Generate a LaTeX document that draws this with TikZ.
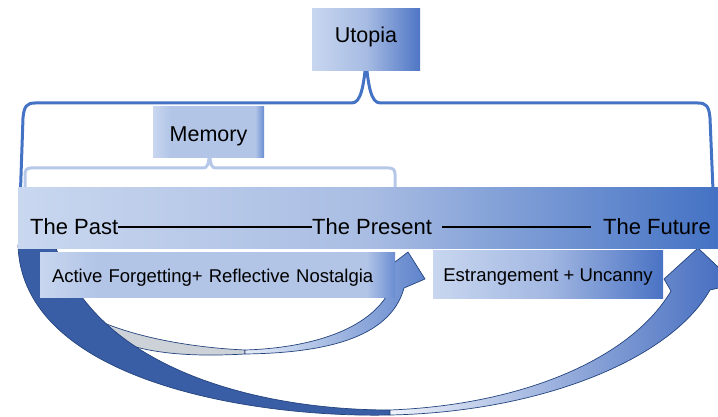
\documentclass[tikz,border=0pt]{standalone}
\usepackage{fontspec}
\setmainfont{Liberation Sans}
\definecolor{bracedark}{HTML}{4472C4}
\definecolor{bracelight}{HTML}{B6C8E8}
\definecolor{bandL}{HTML}{C9D7EF}
\definecolor{bandM}{HTML}{A9BDE3}
\definecolor{bandR}{HTML}{4472C4}
\definecolor{boxL}{HTML}{C8D6EF}
\definecolor{boxM}{HTML}{B2C5E7}
\definecolor{boxD}{HTML}{6A8DD2}
\definecolor{utoR}{HTML}{4F76C5}
\definecolor{utoM}{HTML}{A7BCE3}
\definecolor{estM}{HTML}{A3B8E2}
\definecolor{estR}{HTML}{4A73C4}
\definecolor{bigdark}{HTML}{3A5EA6}
\definecolor{bigL}{HTML}{EEF2FA}
\definecolor{bigR}{HTML}{4069BE}
\definecolor{smL}{HTML}{E6ECF7}
\definecolor{smR}{HTML}{5F84CC}
\definecolor{smgray}{HTML}{CDD1D8}
\definecolor{arrowedge}{HTML}{24447E}
\pgfdeclarehorizontalshading{edgesh}{100bp}{color(0bp)=(boxL); color(25bp)=(boxL); color(33bp)=(boxM); color(71bp)=(boxM); color(75bp)=(boxD); color(100bp)=(boxD)}
\begin{document}
\begin{tikzpicture}[x=1pt,y=-1pt,
  bracebig/.style={draw=bracedark, line width=3pt, line join=round, line cap=round},
  bracemem/.style={draw=bracelight, line width=3pt, line join=round, line cap=round},
  lbl/.style={font=\fontsize{22}{26}\selectfont, inner sep=0pt, anchor=base west},
  rulel/.style={draw=black, line width=1.4pt},
  boxtxt/.style={font=\fontsize{18.5}{22}\selectfont, inner ysep=0pt, text depth=0pt},
  titletxt/.style={font=\fontsize{21.5}{26}\selectfont, inner ysep=0pt},
  arrowpart/.style={draw=arrowedge, line width=0.7pt, line join=round}
]
\useasboundingbox (0,0) rectangle (718,417);
\clip (0,0) rectangle (718,417);

% small curved arrow
\path[arrowpart, fill=smgray] (78,310) .. controls (115,333) and (180,347) .. (245,350)
  -- (245,354) .. controls (175,358) and (105,352) .. (78,310) -- cycle;
\path[arrowpart, left color=smL, right color=smR] (245,354) .. controls (320,353) and (390,340) .. (404,288)
  -- (425,279) -- (408,252) -- (382,272) -- (390,290)
  .. controls (370,330) and (310,348) .. (245,350) -- cycle;

% big curved arrow
\path[arrowpart, fill=bigdark] (18,245) .. controls (22,380) and (250,418) .. (390,415)
  -- (390,410) .. controls (260,410) and (95,370) .. (55,245) -- cycle;
\path[arrowpart, left color=bigL, right color=bigR] (390,415) .. controls (540,412) and (670,360) .. (710,290)
  -- (736,284) -- (698,248) -- (664,279) -- (671,291)
  .. controls (630,360) and (520,405) .. (390,410) -- cycle;

% braces
\draw[bracebig] (20.5,190) -- (23,118) .. controls (24,106) and (27,103) .. (35,103) -- (352,103)
  .. controls (361,103) and (364,85) .. (366,60) .. controls (368,85) and (371,103) .. (380,103)
  -- (698,103) .. controls (706,103) and (709,106) .. (710,118) -- (713,190);
\draw[bracemem] (25,190) -- (25,174) .. controls (25,170) and (27,168) .. (31,168) -- (203,168)
  .. controls (207,168) and (209,166) .. (209.5,150) .. controls (210,166) and (212,168) .. (216,168)
  -- (389,168) .. controls (393,168) and (395,170) .. (395,174) -- (395,190);

% band
\node[left color=bandL, right color=bandR, middle color=bandM, minimum width=700pt, minimum height=61pt,
  inner sep=0pt, anchor=north west] (band) at (18,187) {};
\node[lbl] (past) at (30,234) {The Past};
\node[lbl] (present) at (312,234) {The Present};
\node[lbl] (future) at (603,234) {The Future};
\draw[rulel] ([yshift=7pt]past.base east) -- ([yshift=7pt]present.base west);
\draw[rulel] ([xshift=10pt,yshift=7pt]present.base east) -- ([xshift=-12pt,yshift=7pt]future.base west);

% boxes
\node[titletxt, left color=boxL, right color=utoR, middle color=utoM, minimum width=108pt, minimum height=62pt,
  text height=10pt, text depth=4pt] (utopia) at (366,40) {Utopia};
\node[titletxt, shade, shading=edgesh, minimum width=111pt, minimum height=51pt,
  text height=19pt, text depth=0pt] (memory) at (208.5,132.5) {Memory};
\node[boxtxt, shade, shading=edgesh, text width=331pt, align=left, inner xsep=12pt,
  minimum height=45pt, text height=15pt] (active) at (217.5,274.5) {Active Forgetting+ Reflective Nostalgia};
\node[boxtxt, left color=boxL, right color=estR, middle color=estM, minimum width=230pt, minimum height=48pt,
  text height=14pt] (estr) at (548,274) {Estrangement + Uncanny};
\end{tikzpicture}
\end{document}
